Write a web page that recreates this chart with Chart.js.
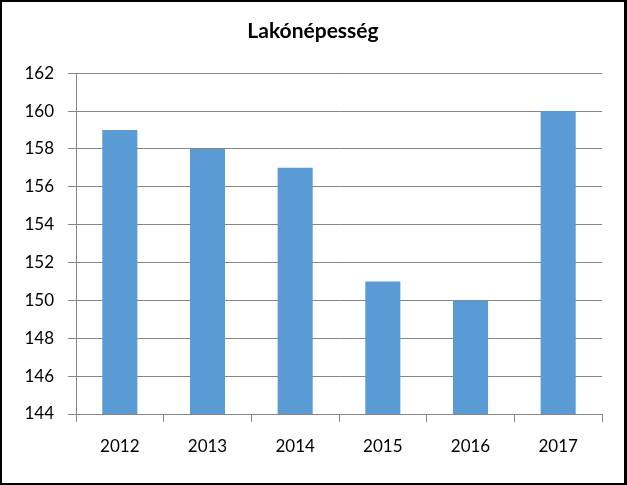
<!DOCTYPE html>
<html lang="hu">
<head>
    <meta charset="UTF-8">
    <title>Lakónépesség</title>
    <script src="https://cdn.jsdelivr.net/npm/chart.js"></script>
    <style>
        body {
            margin: 0;
            padding: 0;
            background-color: #fff;
        }
        #wrap {
            width: 627px;
            height: 485px;
        }
    </style>
</head>
<body>
    <div id="wrap">
        <canvas id="chart" width="627" height="485"></canvas>
    </div>

    <script>
        // Chart data
        const years = ['2012', '2013', '2014', '2015', '2016', '2017'];
        const population = [159, 158, 157, 151, 150, 160];
        const chartTitle = 'Lakónépesség';

        const gridColor = '#868686';
        const barColor = '#5B9BD5';

        // black frame round the whole picture
        const framePlugin = {
            id: 'frame',
            afterDraw(chart) {
                const c = chart.ctx;
                c.save();
                c.fillStyle = '#000';
                c.fillRect(0, 0, 627, 2);
                c.fillRect(0, 0, 2, 485);
                c.fillRect(624, 0, 3, 485);
                c.fillRect(0, 483, 627, 2);
                c.restore();
            }
        };

        Chart.defaults.font.family = 'Lato, "Open Sans", sans-serif';
        Chart.defaults.color = '#000';

        const ctx = document.getElementById('chart').getContext('2d');
        new Chart(ctx, {
            type: 'bar',
            data: {
                labels: years,
                datasets: [{
                    label: chartTitle,
                    data: population,
                    backgroundColor: barColor,
                    borderWidth: 0,
                    barPercentage: 1,
                    categoryPercentage: 0.4
                }]
            },
            options: {
                responsive: false,
                animation: false,
                layout: {
                    padding: { left: 24, right: 25, top: 0, bottom: 0 }
                },
                scales: {
                    x: {
                        afterFit: (scale) => { scale.height = 71; },
                        grid: {
                            offset: true,
                            drawOnChartArea: false,
                            drawTicks: true,
                            tickLength: 8,
                            color: gridColor
                        },
                        border: { color: gridColor },
                        ticks: {
                            padding: 14,
                            font: { size: 17 }
                        }
                    },
                    y: {
                        min: 144,
                        max: 162,
                        afterFit: (scale) => { scale.width = 52; },
                        grid: {
                            drawTicks: true,
                            tickLength: 8,
                            color: gridColor
                        },
                        border: { color: gridColor },
                        ticks: {
                            stepSize: 2,
                            padding: 14,
                            font: { size: 17 }
                        }
                    }
                },
                plugins: {
                    legend: { display: false },
                    tooltip: { enabled: false },
                    title: {
                        display: true,
                        text: chartTitle,
                        color: '#000',
                        font: { size: 21, weight: 'bold' },
                        padding: { top: 19, bottom: 29 }
                    }
                }
            },
            plugins: [framePlugin]
        });
    </script>
</body>
</html>
